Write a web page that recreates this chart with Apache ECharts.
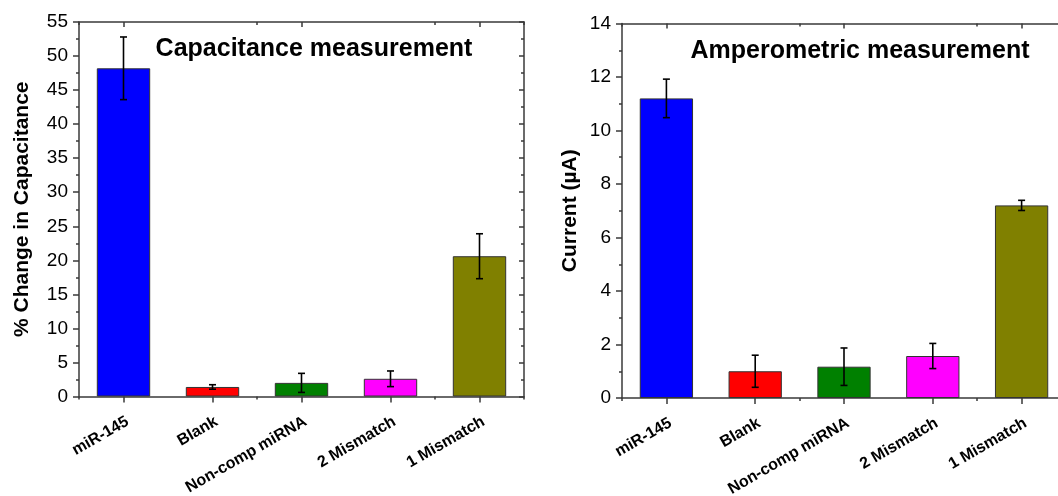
<!DOCTYPE html>
<html>
<head>
<meta charset="utf-8">
<script src="https://cdn.jsdelivr.net/npm/echarts@6/dist/echarts.min.js"></script>
<style>
html,body{margin:0;padding:0;background:#fff;}
#chart{width:1058px;height:496px;}
</style>
</head>
<body>
<div id="chart"></div>
<script>
// ---- data ----
const categories = ['miR-145', 'Blank', 'Non-comp miRNA', '2 Mismatch', '1 Mismatch'];
const barColors = ['#0000FF', '#FF0000', '#008000', '#FF00FF', '#808000'];

const capValues = [48.2, 1.4, 2.0, 2.6, 20.6];
const capErrors = [4.6, 0.33, 1.4, 1.15, 3.3];

const ampValues = [11.2, 1.0, 1.17, 1.57, 7.2];
const ampErrors = [0.72, 0.6, 0.7, 0.47, 0.19];

const capTicks = {min: 0, max: 55, interval: 5};
const ampTicks = {min: 0, max: 14, interval: 2};

const titles = ['Capacitance measurement', 'Amperometric measurement'];
const yNames = ['% Change in Capacitance', 'Current (\u00b5A)'];

// ---- chart ----
const FONT = 'Liberation Sans, Arial, sans-serif';
const AXC = '#3a3a3a';
const chart = echarts.init(document.getElementById('chart'), null, {renderer: 'canvas'});

const grids = [
  {left: 79, top: 22, width: 445, height: 374.5, containLabel: false, outerBoundsMode: 'none'},
  {left: 622, top: 23.5, width: 444, height: 374.5, containLabel: false, outerBoundsMode: 'none'}
];

function xAxesFor(gi) {
  const base = {type: 'category', data: categories, gridIndex: gi, boundaryGap: true, splitLine: {show: false}};
  return [
    Object.assign({}, base, {
      position: 'bottom',
      axisLine: {show: true, lineStyle: {color: AXC, width: 1.5}},
      axisTick: {show: true, alignWithLabel: true, length: 6, inside: false, lineStyle: {color: AXC, width: 1.5}},
      axisLabel: {show: true, rotate: 30, margin: 17, align: 'right', verticalAlign: 'top',
                  fontFamily: FONT, fontWeight: 'bold', fontSize: 16, color: '#000', interval: 0}
    }),
    Object.assign({}, base, {
      position: 'bottom',
      axisLine: {show: false},
      axisTick: {show: true, alignWithLabel: false, length: 3, inside: false, lineStyle: {color: AXC, width: 1.5}},
      axisLabel: {show: false}
    }),
    Object.assign({}, base, {
      position: 'top',
      axisLine: {show: true, lineStyle: {color: AXC, width: 1.5}},
      axisTick: {show: true, alignWithLabel: true, length: 5, inside: true, lineStyle: {color: AXC, width: 1.5}},
      axisLabel: {show: false}
    }),
    Object.assign({}, base, {
      position: 'top',
      axisLine: {show: false},
      axisTick: {show: true, alignWithLabel: false, length: 3, inside: true, lineStyle: {color: AXC, width: 1.5}},
      axisLabel: {show: false}
    })
  ];
}

function yAxesFor(gi, ticks, name, gap) {
  return [
    {
      type: 'value', gridIndex: gi, position: 'left', min: ticks.min, max: ticks.max, interval: ticks.interval,
      name: name, nameLocation: 'middle', nameRotate: 90, nameGap: gap,
      nameTextStyle: {fontFamily: FONT, fontWeight: 'bold', fontSize: 21, color: '#000'},
      axisLine: {show: true, lineStyle: {color: AXC, width: 1.5}},
      axisTick: {show: true, length: 6, inside: false, lineStyle: {color: AXC, width: 1.5}},
      minorTick: {show: true, splitNumber: 2, length: 3, lineStyle: {color: AXC, width: 1.5}},
      axisLabel: {show: true, margin: 11, fontFamily: FONT, fontSize: 19, color: '#000'},
      splitLine: {show: false}
    },
    {
      type: 'value', gridIndex: gi, position: 'right', min: ticks.min, max: ticks.max, interval: ticks.interval,
      axisLine: {show: true, onZero: false, lineStyle: {color: AXC, width: 1.5}},
      axisTick: {show: true, length: 5, inside: true, lineStyle: {color: AXC, width: 1.5}},
      minorTick: {show: true, splitNumber: 2, length: 3, lineStyle: {color: AXC, width: 1.5}},
      axisLabel: {show: false},
      splitLine: {show: false}
    }
  ];
}

function barData(vals) {
  return vals.map((v, i) => ({value: v, itemStyle: {color: barColors[i]}}));
}
function errData(vals, errs) {
  return vals.map((v, i) => [i, v - errs[i], v + errs[i]]);
}
function errRender(params, api) {
  const x = api.value(0);
  const lo = api.coord([x, api.value(1)]);
  const hi = api.coord([x, api.value(2)]);
  const cw = 3.5;
  const style = {stroke: '#000', lineWidth: 1.6};
  return {
    type: 'group',
    children: [
      {type: 'line', shape: {x1: hi[0], y1: hi[1], x2: lo[0], y2: lo[1]}, style: style},
      {type: 'line', shape: {x1: hi[0] - cw, y1: hi[1], x2: hi[0] + cw, y2: hi[1]}, style: style},
      {type: 'line', shape: {x1: lo[0] - cw, y1: lo[1], x2: lo[0] + cw, y2: lo[1]}, style: style}
    ]
  };
}

const option = {
  backgroundColor: '#fff',
  animation: false,
  title: [
    {text: titles[0], left: 309, top: 32, textAlign: 'center',
     textStyle: {fontFamily: FONT, fontWeight: 'bold', fontSize: 25, color: '#000'}},
    {text: titles[1], left: 855, top: 34, textAlign: 'center',
     textStyle: {fontFamily: FONT, fontWeight: 'bold', fontSize: 25, color: '#000'}}
  ],
  grid: grids,
  xAxis: xAxesFor(0).concat(xAxesFor(1)),
  yAxis: yAxesFor(0, capTicks, yNames[0], 46).concat(yAxesFor(1, ampTicks, yNames[1], 41)),
  series: [
    {type: 'bar', xAxisIndex: 0, yAxisIndex: 0, barWidth: '60%', data: barData(capValues),
     itemStyle: {borderColor: '#333', borderWidth: 1}},
    {type: 'custom', xAxisIndex: 0, yAxisIndex: 0, data: errData(capValues, capErrors), renderItem: errRender, z: 5},
    {type: 'bar', xAxisIndex: 4, yAxisIndex: 2, barWidth: '60%', data: barData(ampValues),
     itemStyle: {borderColor: '#333', borderWidth: 1}},
    {type: 'custom', xAxisIndex: 4, yAxisIndex: 2, data: errData(ampValues, ampErrors), renderItem: errRender, z: 5}
  ]
};
chart.setOption(option);
</script>
</body>
</html>
